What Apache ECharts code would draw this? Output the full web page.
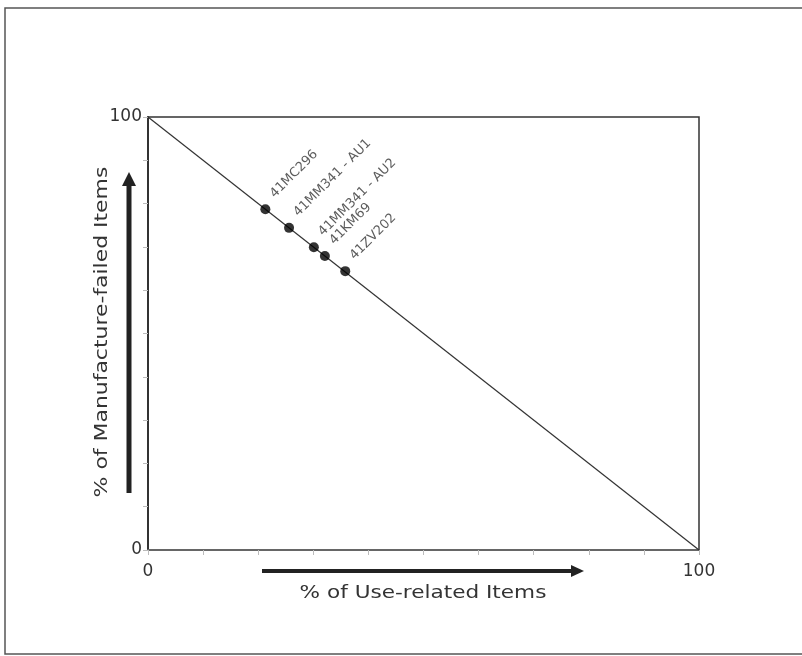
<!DOCTYPE html>
<html><head><meta charset="utf-8">
<script src="https://cdn.jsdelivr.net/npm/echarts@6/dist/echarts.min.js"></script>
<style>html,body{margin:0;padding:0;background:#fff}#c{width:802px;height:656px}</style>
</head><body><div id="c"></div>
<script>
const itemNames = ['41MC296','41MM341 - AU1','41MM341 - AU2','41KM69','41ZV202'];
const useRelated = [21.3, 25.6, 30.1, 32.1, 35.8];
const manufactureFailed = [78.7, 74.4, 69.9, 67.9, 64.4];
const diagonalX = [0, 100];
const diagonalY = [100, 0];
const axisMin = 0, axisMax = 100, tickStep = 10;
const xTitle = '% of Use-related Items';
const yTitle = '% of Manufacture-failed Items';

const FONT = 'DejaVu Sans';
const chart = echarts.init(document.getElementById('c'), null, {renderer:'canvas'});
const pts = useRelated.map((x,i)=>({value:[x, manufactureFailed[i]], name:itemNames[i]}));
chart.setOption({
  animation:false,
  grid:{left:148, top:117, width:551, height:433, show:true, borderColor:'#333', borderWidth:1.5},
  xAxis:{type:'value', min:axisMin, max:axisMax, interval:tickStep,
    axisLine:{show:true, lineStyle:{color:'#666', width:2}},
    axisTick:{show:true, length:5, lineStyle:{color:'#bbb'}},
    splitLine:{show:false},
    axisLabel:{color:'#333', fontFamily:FONT, fontSize:17, margin:13,
      formatter:v=> (v===axisMin||v===axisMax)? String(v):''}},
  yAxis:{type:'value', min:axisMin, max:axisMax, interval:tickStep,
    axisLine:{show:true, lineStyle:{color:'#333', width:2}},
    axisTick:{show:true, length:5, lineStyle:{color:'#bbb'}},
    splitLine:{show:false},
    axisLabel:{color:'#333', fontFamily:FONT, fontSize:17, margin:6,
      formatter:v=> (v===axisMin||v===axisMax)? String(v):''}},
  series:[
    {type:'line', data:diagonalX.map((x,i)=>[x,diagonalY[i]]), symbol:'none',
     lineStyle:{color:'#333', width:1.2}, z:1},
    {type:'scatter', data:pts, symbolSize:10, itemStyle:{color:'#000'}, z:3,
     label:{show:true, position:'right', rotate:45, distance:4, offset:[8,-11],
       formatter:p=>p.name, color:'#333', fontFamily:FONT, fontSize:13}}
  ],
  graphic:[
    {type:'rect', shape:{x:5,y:8,width:806,height:646}, style:{fill:'none', stroke:'#555', lineWidth:1.5}},
    {type:'line', shape:{x1:129,y1:493,x2:129,y2:185}, style:{stroke:'#222', lineWidth:5}},
    {type:'polygon', shape:{points:[[122,186],[136,186],[129,172]]}, style:{fill:'#222'}},
    {type:'line', shape:{x1:262,y1:571,x2:572,y2:571}, style:{stroke:'#222', lineWidth:4}},
    {type:'polygon', shape:{points:[[571,565],[571,577],[584,571]]}, style:{fill:'#222'}},
    {type:'text', x:423, y:594, scaleX:1.27, style:{text:xTitle, font:'17px '+FONT, fill:'#333', align:'center', verticalAlign:'middle'}},
    {type:'text', x:103, y:332, rotation:Math.PI/2, scaleX:1.29, style:{text:yTitle, font:'17px '+FONT, fill:'#333', align:'center', verticalAlign:'middle'}}
  ]
});
</script></body></html>
